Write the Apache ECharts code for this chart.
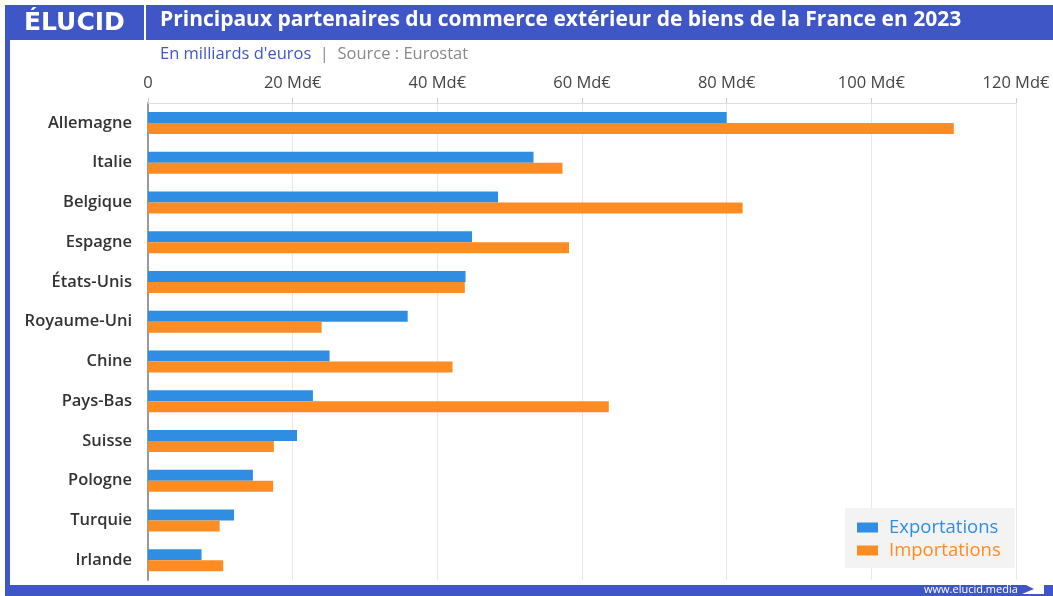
<!DOCTYPE html>
<html>
<head>
<meta charset="utf-8">
<script src="https://cdn.jsdelivr.net/npm/echarts@6/dist/echarts.min.js"></script>
<style>
  html, body { margin: 0; padding: 0; background: #fff; }
  #chart { width: 1053px; height: 596px; }
</style>
</head>
<body>
<div id="chart"></div>
<script>
// données (Md€)
const pays = ['Allemagne', 'Italie', 'Belgique', 'Espagne', 'États-Unis', 'Royaume-Uni',
  'Chine', 'Pays-Bas', 'Suisse', 'Pologne', 'Turquie', 'Irlande'];
const exportations = [80.0, 53.3, 48.4, 44.8, 43.9, 35.9, 25.1, 22.8, 20.6, 14.5, 11.9, 7.4];
const importations = [111.4, 57.3, 82.2, 58.2, 43.8, 24.0, 42.1, 63.7, 17.4, 17.3, 9.9, 10.4];
const ticks = [0, 20, 40, 60, 80, 100, 120];

const BLEU = '#2f8ee2';
const ORANGE = '#fd8c22';
const CADRE = '#3f57c6';
const FONT = '"Open Sans", Lato, sans-serif';

const chart = echarts.init(document.getElementById('chart'));
chart.setOption({
  animation: false,
  backgroundColor: '#fff',
  textStyle: { fontFamily: FONT },
  graphic: [
    // cadre
    { type: 'rect', shape: { x: 5, y: 5, width: 1048, height: 35 }, style: { fill: CADRE } },
    { type: 'rect', shape: { x: 5, y: 5, width: 5, height: 591 }, style: { fill: CADRE } },
    { type: 'rect', shape: { x: 5, y: 585, width: 1048, height: 11 }, style: { fill: CADRE } },
    { type: 'rect', shape: { x: 144, y: 5, width: 2, height: 35 }, style: { fill: '#fff' } },
    { type: 'text', left: 24, top: 11, style: { text: 'ÉLUCID', fill: '#fff', font: 'bold 25px "DejaVu Sans", sans-serif' } },
    { type: 'text', left: 160, top: 10, style: {
      text: 'Principaux partenaires du commerce extérieur de biens de la France en 2023',
      fill: '#fff', font: 'bold 21px ' + FONT } },
    { type: 'text', left: 160, top: 46, style: {
      text: "{a|En milliards d'euros}{b|  |  Source : Eurostat}",
      rich: {
        a: { fill: CADRE, font: '16.5px ' + FONT },
        b: { fill: '#888', font: '16.5px ' + FONT }
      } } },
    { type: 'text', left: 924, top: 584, style: { text: 'www.elucid.media', fill: '#fff', font: '11px ' + FONT } },
    { type: 'polygon', shape: { points: [[1022, 583], [1044, 577], [1044, 594], [1022, 594], [1034, 589]] },
      style: { fill: '#fff' } }
  ],
  grid: { left: 148, right: 37, top: 103, bottom: 16, containLabel: false },
  legend: {
    orient: 'vertical',
    left: 845, top: 508,
    backgroundColor: '#f3f3f3',
    padding: [10, 14, 8, 12],
    itemWidth: 21, itemHeight: 10, itemGap: 4,
    icon: 'rect',
    textStyle: { fontSize: 18.5, fontFamily: FONT, padding: [0, 0, 0, 6] },
    data: [
      { name: 'Exportations', textStyle: { color: BLEU } },
      { name: 'Importations', textStyle: { color: ORANGE } }
    ]
  },
  xAxis: {
    type: 'value',
    position: 'top',
    min: ticks[0], max: ticks[ticks.length - 1], interval: 20,
    axisLine: { show: true, lineStyle: { color: '#ddd', width: 1 } },
    axisTick: { show: true, length: 5, lineStyle: { color: '#ccc' } },
    splitLine: { show: true, lineStyle: { color: '#e8e8e8' } },
    axisLabel: {
      margin: 11, fontSize: 16.5, color: '#444', fontFamily: FONT,
      formatter: v => v === 0 ? '0' : v + ' Md€'
    }
  },
  yAxis: {
    type: 'category',
    data: pays,
    inverse: true,
    axisLine: { show: true, lineStyle: { color: '#999', width: 2 } },
    axisTick: { show: false },
    axisLabel: { margin: 16, fontSize: 16.5, fontWeight: 600, color: '#333', fontFamily: FONT }
  },
  series: [
    { name: 'Exportations', type: 'bar', data: exportations, barWidth: 11, barGap: '0%',
      itemStyle: { color: BLEU } },
    { name: 'Importations', type: 'bar', data: importations, barWidth: 11, barGap: '0%',
      itemStyle: { color: ORANGE } }
  ]
});
</script>
</body>
</html>
